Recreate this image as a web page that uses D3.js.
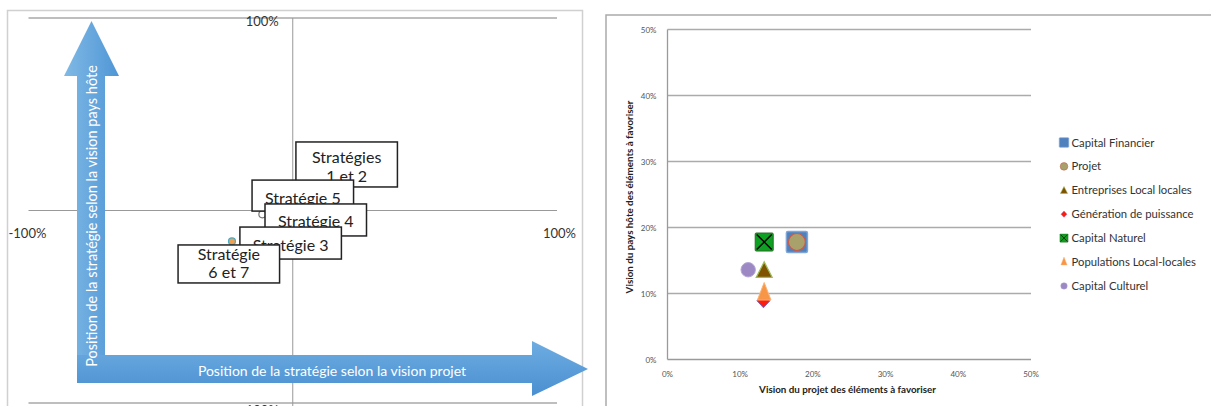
<!DOCTYPE html>
<html>
<head>
<meta charset="utf-8">
<script src="https://cdn.jsdelivr.net/npm/d3@7"></script>
<style>
  body { margin: 0; background: #fff; }
  svg { display: block; font-family: Lato, "Open Sans", sans-serif; }
</style>
</head>
<body>
<div id="chart"></div>
<script>
// ---- left chart : strategies in the -100% .. 100% plane ----
var stratLabels = [["Stratégies", "1 et 2"], ["Stratégie 5"], ["Stratégie 4"], ["Stratégie 3"], ["Stratégie", "6 et 7"]];
var stratX = [0.012, -0.154, -0.105, -0.200, -0.434];   // top-left corner of each label box
var stratY = [0.356, 0.158, 0.034, -0.086, -0.179];
var stratPtX = [-0.115, -0.23];
var stratPtY = [-0.02, -0.16];
var leftTicks = [-1, 1];

// ---- right chart : elements to favour ----
var seriesNames = ["Capital Financier", "Projet", "Entreprises Local locales", "Génération de puissance",
                   "Capital Naturel", "Populations Local-locales", "Capital Culturel"];
var seriesX = [0.178, 0.178, 0.133, 0.132, 0.133, 0.133, 0.111];
var seriesY = [0.178, 0.178, 0.135, 0.089, 0.178, 0.100, 0.136];
var rightTicks = [0, 0.1, 0.2, 0.3, 0.4, 0.5];

function init() {
    var w = 1211, h = 406;

    var svg = d3.select("#chart").append("svg")
        .attr("width", w)
        .attr("height", h);

    var defs = svg.append("defs");
    var gv = defs.append("linearGradient").attr("id", "gv")
        .attr("x1", "0").attr("y1", "0").attr("x2", "1").attr("y2", "0");
    gv.append("stop").attr("offset", "0%").attr("stop-color", "#80b9e5");
    gv.append("stop").attr("offset", "100%").attr("stop-color", "#4f96d6");
    var gh = defs.append("linearGradient").attr("id", "gh")
        .attr("x1", "0").attr("y1", "0").attr("x2", "0").attr("y2", "1");
    gh.append("stop").attr("offset", "0%").attr("stop-color", "#6eade2");
    gh.append("stop").attr("offset", "100%").attr("stop-color", "#4a8fd0");
    defs.append("filter").attr("id", "soft")
        .append("feGaussianBlur").attr("stdDeviation", 0.5);

    // ================= LEFT PANEL =================
    var xL = d3.scaleLinear().domain([-1, 1]).range([28.5, 557]);
    var yL = d3.scaleLinear().domain([-1, 1]).range([403, 18]);

    var left = svg.append("g");
    left.append("rect")
        .attr("x", 7.5).attr("y", 10.5)
        .attr("width", 575).attr("height", 420)
        .attr("fill", "#fff").attr("stroke", "#d0d0d0").attr("stroke-width", 1.5);

    // gridlines and axes crossing at 0
    left.selectAll(".hl").data([-1, 0, 1]).enter().append("line")
        .attr("x1", xL(-1)).attr("x2", xL(1))
        .attr("y1", function(d) { return yL(d); })
        .attr("y2", function(d) { return yL(d); })
        .attr("stroke", function(d) { return d === 0 ? "#999" : "#a8a8a8"; })
        .attr("stroke-width", function(d) { return d === 0 ? 1 : 1.6; });
    left.append("line")
        .attr("x1", xL(0)).attr("x2", xL(0))
        .attr("y1", yL(1)).attr("y2", h + 10)
        .attr("stroke", "#999").attr("stroke-width", 1);

    // tick labels
    left.selectAll(".xt").data(leftTicks).enter().append("text")
        .attr("x", function(d) { return d < 0 ? xL(d) - 20 : xL(d) - 14; })
        .attr("y", yL(0) + 27)
        .attr("font-size", 13).attr("fill", "#333")
        .text(function(d) { return (d * 100) + "%"; });
    left.selectAll(".yt").data(leftTicks).enter().append("text")
        .attr("x", xL(0) - 14)
        .attr("y", function(d) { return d > 0 ? yL(d) + 8 : yL(d) + 12; })
        .attr("text-anchor", "end")
        .attr("font-size", 13).attr("fill", "#333")
        .text(function(d) { return Math.abs(d * 100) + "%"; });

    // small strategy points
    left.selectAll(".sp").data(stratPtX).enter().append("circle")
        .attr("cx", function(d) { return xL(d); })
        .attr("cy", function(d, i) { return yL(stratPtY[i]); })
        .attr("r", 3.5)
        .attr("fill", function(d, i) { return i === 0 ? "#fff" : "#f0a050"; })
        .attr("stroke", function(d, i) { return i === 0 ? "#777" : "#4aacc6"; })
        .attr("stroke-width", 1.2);

    // arrows
    left.append("path")
        .attr("d", "M77,383 L77,76 L64,76 L91.5,21 L119,76 L105,76 L105,383 Z")
        .attr("fill", "url(#gv)");
    left.append("path")
        .attr("d", "M77,355 L532,355 L532,341 L588,369 L532,396 L532,383 L77,383 Z")
        .attr("fill", "url(#gh)");
    left.append("text")
        .attr("transform", "translate(96.5,216) rotate(-90)")
        .attr("text-anchor", "middle")
        .attr("font-size", 14.5).attr("fill", "#fff")
        .text("Position de la stratégie selon la vision pays hôte");
    left.append("text")
        .attr("x", 332).attr("y", 376)
        .attr("text-anchor", "middle")
        .attr("font-size", 14).attr("fill", "#fff")
        .text("Position de la stratégie selon la vision projet");

    // strategy label boxes
    var boxW = 101.5;
    var boxH = [45, 31, 32, 32, 38];
    var firstLine = [21.5, 23.5, 23, 23.5, 15];
    var boxes = left.selectAll(".box").data(stratLabels).enter().append("g")
        .attr("transform", function(d, i) { return "translate(" + xL(stratX[i]) + "," + yL(stratY[i]) + ")"; });
    boxes.append("rect")
        .attr("width", boxW)
        .attr("height", function(d, i) { return boxH[i]; })
        .attr("fill", "#fff").attr("stroke", "#222").attr("stroke-width", 1.5);
    boxes.each(function(d, i) {
        var g = d3.select(this);
        d.forEach(function(line, j) {
            g.append("text")
                .attr("x", boxW / 2)
                .attr("y", firstLine[i] + j * 18.5)
                .attr("text-anchor", "middle")
                .attr("font-size", 16).attr("fill", "#222")
                .text(line);
        });
    });

    // ================= RIGHT PANEL =================
    var xR = d3.scaleLinear().domain([0, 0.5]).range([667.5, 1031]);
    var yR = d3.scaleLinear().domain([0, 0.5]).range([359.5, 29.5]);
    var pct = d3.format(".0%");

    var right = svg.append("g");
    right.append("path")
        .attr("d", "M606," + (h + 5) + " L606,15 L" + (w + 5) + ",15")
        .attr("fill", "none").attr("stroke", "#aaa").attr("stroke-width", 1.5);

    right.selectAll(".grid").data(rightTicks.slice(1)).enter().append("line")
        .attr("x1", xR(0)).attr("x2", xR(0.5))
        .attr("y1", function(d) { return yR(d); })
        .attr("y2", function(d) { return yR(d); })
        .attr("stroke", "#ababab").attr("stroke-width", 1.3);
    right.append("line")
        .attr("x1", xR(0)).attr("x2", xR(0))
        .attr("y1", yR(0.5)).attr("y2", yR(0))
        .attr("stroke", "#9a9a9a").attr("stroke-width", 1.3);
    right.append("line")
        .attr("x1", xR(0)).attr("x2", xR(0.5))
        .attr("y1", yR(0)).attr("y2", yR(0))
        .attr("stroke", "#9a9a9a").attr("stroke-width", 1.3);

    right.selectAll(".ytl").data(rightTicks).enter().append("text")
        .attr("x", xR(0) - 11)
        .attr("y", function(d) { return yR(d) + 3; })
        .attr("text-anchor", "end")
        .attr("font-size", 8).attr("fill", "#555")
        .text(pct);
    right.selectAll(".xtl").data(rightTicks).enter().append("text")
        .attr("x", function(d) { return xR(d); })
        .attr("y", 377)
        .attr("text-anchor", "middle")
        .attr("font-size", 8).attr("fill", "#555")
        .text(pct);

    right.append("text")
        .attr("x", 847.5).attr("y", 393)
        .attr("text-anchor", "middle")
        .attr("font-size", 9.8).attr("font-weight", "bold").attr("fill", "#222")
        .text("Vision du projet des éléments à favoriser");
    right.append("text")
        .attr("transform", "translate(632.5,197) rotate(-90)")
        .attr("text-anchor", "middle")
        .attr("font-size", 9.8).attr("font-weight", "bold").attr("fill", "#222")
        .text("Vision du pays hôte des éléments à favoriser");

    // marker drawing per series
    var styles = [
        { fill: "#4f81bd", stroke: "#7fa6d6" },
        { fill: "#a9a16c", stroke: "#d0584a" },
        { fill: "#7f5200", stroke: "#9bbb59" },
        { fill: "#ff1a0a", stroke: "#8a5fb0" },
        { fill: "#10a020", stroke: "#2a6a2a" },
        { fill: "#f79646", stroke: "#fbb275" },
        { fill: "#9c89c4", stroke: "#b3a4d6" }
    ];
    function drawMarker(g, i, s) {
        var st = styles[i];
        if (i === 0) {
            g.append("rect").attr("x", -s * 1.05).attr("y", -s * 1.05)
                .attr("width", s * 2.1).attr("height", s * 2.1).attr("rx", s * 0.15)
                .attr("fill", st.fill).attr("stroke", st.stroke).attr("stroke-width", s * 0.15);
        } else if (i === 1) {
            g.append("circle").attr("r", s * 0.85)
                .attr("fill", st.fill).attr("stroke", st.stroke).attr("stroke-width", s * 0.12);
        } else if (i === 2) {
            g.append("path")
                .attr("d", "M0," + (-s * 0.85) + " L" + (s * 0.8) + "," + (s * 0.7) + " L" + (-s * 0.8) + "," + (s * 0.7) + " Z")
                .attr("fill", st.fill).attr("stroke", st.stroke).attr("stroke-width", s * 0.12);
        } else if (i === 3) {
            g.append("path")
                .attr("d", "M0," + (-s * 0.7) + " L" + (s * 0.65) + ",0 L0," + (s * 0.7) + " L" + (-s * 0.65) + ",0 Z")
                .attr("fill", st.fill).attr("stroke", st.stroke).attr("stroke-width", s * 0.1);
        } else if (i === 4) {
            g.append("rect").attr("x", -s * 0.9).attr("y", -s * 0.9)
                .attr("width", s * 1.8).attr("height", s * 1.8).attr("rx", s * 0.1)
                .attr("fill", st.fill).attr("stroke", st.stroke).attr("stroke-width", s * 0.1);
            g.append("path")
                .attr("d", "M" + (-s * 0.75) + "," + (-s * 0.75) + " L" + (s * 0.75) + "," + (s * 0.75) +
                           " M" + (s * 0.75) + "," + (-s * 0.75) + " L" + (-s * 0.75) + "," + (s * 0.75))
                .attr("stroke", "#000").attr("stroke-width", s * 0.14);
        } else if (i === 5) {
            g.append("path")
                .attr("d", "M0," + (-s * 1.1) + " L" + (s * 0.68) + "," + (s * 0.65) + " L" + (-s * 0.68) + "," + (s * 0.65) + " Z")
                .attr("fill", st.fill).attr("stroke", st.stroke).attr("stroke-width", s * 0.1);
        } else {
            g.append("circle").attr("r", s * 0.72)
                .attr("fill", st.fill).attr("stroke", st.stroke).attr("stroke-width", s * 0.1);
        }
    }

    var pts = right.append("g").attr("filter", "url(#soft)");
    seriesNames.forEach(function(name, i) {
        var g = pts.append("g")
            .attr("transform", "translate(" + xR(seriesX[i]) + "," + yR(seriesY[i]) + ")");
        drawMarker(g, i, 10);
    });

    // legend
    var legend = right.selectAll(".leg").data(seriesNames).enter().append("g")
        .attr("transform", function(d, i) { return "translate(1064," + (142.5 + i * 23.9) + ")"; });
    legend.each(function(d, i) { drawMarker(d3.select(this), i, 4.5); });
    legend.append("text")
        .attr("x", 7.5).attr("y", 4)
        .attr("font-size", 11.3).attr("fill", "#333")
        .text(function(d) { return d; });
}

window.onload = init;
</script>
</body>
</html>
